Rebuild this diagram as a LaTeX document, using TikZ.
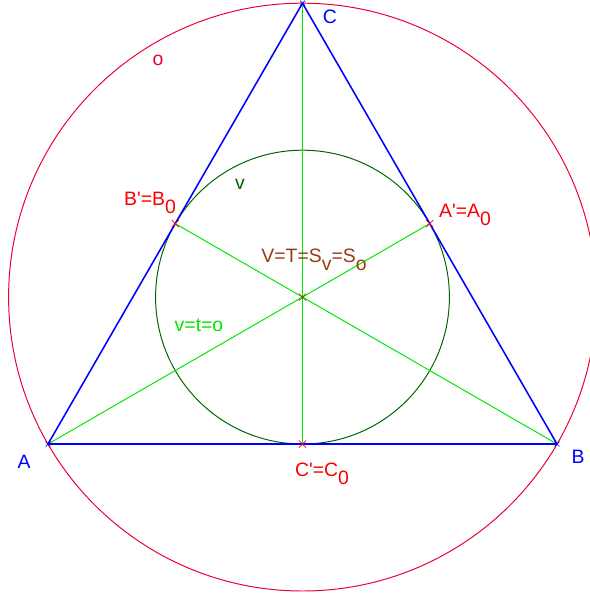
\documentclass[tikz,border=0pt]{standalone}
\usepackage{fontspec}
\setmainfont{Liberation Sans}
\usetikzlibrary{calc,shapes.misc}
\definecolor{circred}{RGB}{236,0,50}
\definecolor{midred}{RGB}{250,0,0}
\definecolor{incgreen}{RGB}{0,100,0}
\definecolor{lightgr}{RGB}{0,230,0}
\definecolor{ctrbrown}{RGB}{150,60,20}
\newcommand{\lowsub}[1]{\raisebox{-0.4em}{#1}}
\newcommand{\pr}{\textquotesingle}
\tikzset{
  mark cross/.style={cross out,draw=#1,minimum size=4.5pt,inner sep=0pt,line width=0.5pt},
  lbl/.style={font=\fontsize{13.8}{16}\selectfont,inner sep=0pt}
}

\begin{document}
\begin{tikzpicture}[x=0.025cm,y=-0.025cm]
    \useasboundingbox (0,0) rectangle (590,593);
    % vertices and centre
    \coordinate (A) at (48,444);
    \coordinate (B) at (557,444);
    \coordinate (C) at (302.5,3.2);
    \coordinate (O) at (302.5,297.1);
    \coordinate (Am) at ($(B)!0.5!(C)$);
    \coordinate (Bm) at ($(A)!0.5!(C)$);
    \coordinate (Cm) at ($(A)!0.5!(B)$);
    % circles
    \draw[circred,line width=0.7pt] (O) circle[radius=293.9];
    \draw[incgreen,line width=0.7pt] (O) circle[radius=146.9];
    % medians
    \draw[lightgr,line width=0.7pt] (A) -- (Am);
    \draw[lightgr,line width=0.7pt] (B) -- (Bm);
    \draw[lightgr,line width=0.7pt] (C) -- (Cm);
    % triangle
    \draw[blue,line width=1.1pt,line join=round] (A) -- (B) -- (C) -- cycle;
    % marks
    \node[mark cross=midred] (mA) at (Am) {};
    \node[mark cross=midred] (mB) at (Bm) {};
    \node[mark cross=midred] (mC) at (Cm) {};
    \node[mark cross=ctrbrown] (mO) at (O) {};
    \foreach \p in {A,B,C} \node[mark cross=blue,minimum size=3pt] (m\p v) at (\p) {};
    % labels
    \node[lbl,text=blue] (lA) at (24,462) {A};
    \node[lbl,text=blue] (lB) at (578,457) {B};
    \node[lbl,text=blue] (lC) at (330,17) {C};
    \node[lbl,text=circred] (lo) at (158,60) {o};
    \node[lbl,text=incgreen] (lv) at (240,184) {v};
    \node[lbl,text=midred] (lBm) at (150,203) {B\pr=B\lowsub{0}};
    \node[lbl,text=midred] (lAm) at (465,215) {A\pr=A\lowsub{0}};
    \node[lbl,text=midred] (lCm) at (322,474) {C\pr=C\lowsub{0}};
    \node[lbl,text=ctrbrown] (lO) at (314,260) {V=T=S\lowsub{v}=S\lowsub{o}};
    \node[lbl,text=lightgr] (lvto) at (199,325) {v=t=o};
\end{tikzpicture}
\end{document}
